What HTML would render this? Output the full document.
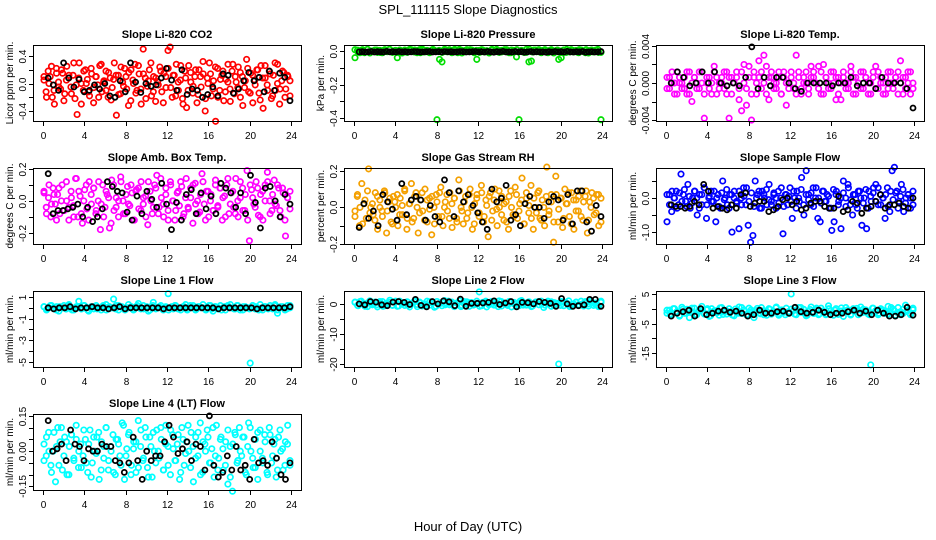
<!DOCTYPE html>
<html><head><meta charset="utf-8">
<style>
html,body{margin:0;padding:0;background:#fff;}
svg{display:block;font-family:"Liberation Sans",sans-serif;}
</style></head>
<body>
<svg id="chart" width="936" height="540" viewBox="0 0 936 540">
<text x="468" y="14" text-anchor="middle" font-size="13">SPL_111115  Slope Diagnostics</text>
<text x="468" y="531" text-anchor="middle" font-size="13">Hour of Day (UTC)</text>
</svg>
<script>
const hourTicks = [0,4,8,12,16,20,24];

const co2Vals = [0.05,-0.12,0.18,0.1,-0.2,-0.3,0.22,0.02,-0.08,0.15,
-0.15,0.25,0.08,-0.05,0.12,-0.22,-0.45,0.3,0.0,-0.1,
0.2,0.06,-0.18,0.14,-0.28,0.1,-0.02,0.26,-0.12,0.04,
0.18,-0.2,0.08,-0.06,0.3,-0.46,0.12,-0.15,0.02,0.22,
-0.08,0.16,-0.25,0.05,0.28,-0.1,0.14,-0.3,0.5,0.08,
-0.04,0.2,-0.18,0.1,-0.26,0.03,0.24,-0.12,0.15,-0.06,
0.48,0.53,-0.2,0.12,0.28,-0.1,0.05,-0.22,0.18,-0.35,
0.26,0.02,-0.14,0.1,-0.28,0.2,-0.05,0.14,-0.4,0.08,
0.3,-0.18,0.04,-0.55,0.22,-0.1,0.12,-0.25,0.06,0.28,
-0.08,0.18,-0.15,0.02,0.24,-0.2,0.1,-0.06,0.35,-0.12,
0.15,-0.28,0.05,0.2,-0.14,0.26,-0.36,0.08,-0.02,0.18,
-0.22,0.12,-0.1,0.28,-0.3,0.04,0.16,-0.08,0.1,-0.18];
const co2ValsB = [0.1,-0.2,0.0,0.25,-0.1,0.15,-0.05,0.2,-0.25,0.05,
0.12,-0.15,0.3,-0.02,0.08,-0.3,0.18,0.0,-0.12,0.22,
-0.06,0.1,-0.2,0.28,0.02,-0.1,0.16,-0.24,0.06,0.12,
-0.16,0.24,-0.04,0.1,-0.32,0.2,0.0,-0.14,0.26,-0.08,
0.14,-0.22,0.04,0.3,-0.12,0.08,-0.02,0.18,-0.28,0.1,
0.22,-0.06,0.12,-0.18,0.02,0.26,-0.3,0.08,-0.1,0.16,
-0.04,0.2,-0.16,0.1,0.32,-0.22,0.0,0.14,-0.08,0.24,
-0.2,0.06,0.18,-0.12,0.02,-0.26,0.28,0.1,-0.06,0.16,
-0.32,0.04,0.22,-0.14,0.12,-0.02,0.2,-0.24,0.08,0.26,
-0.1,0.14,-0.18,0.3,0.0,-0.08,0.18,-0.2,0.12,0.04];
const co2Black = [0.08,-0.02,-0.1,0.3,0.08,-0.05,0.06,-0.12,-0.1,-0.02,-0.08,0.0,-0.18,-0.2,0.04,-0.12,0.3,0.02,-0.13,0.0,-0.04,-0.02,0.08,0.22,0.05,-0.1,0.2,-0.16,-0.08,-0.1,-0.2,-0.16,-0.05,-0.18,0.14,0.12,-0.14,-0.08,0.04,0.16,0.04,0.09,-0.12,0.18,-0.1,0.15,0.09,-0.25];

const presVals = [-0.04,0.005,-0.01,0.008,-0.005,0.01,-0.012,0.0,0.006,-0.008,
0.004,-0.01,0.008,-0.004,0.01,-0.006,0.002,-0.04,0.006,-0.012,
0.004,-0.008,0.01,-0.002,0.006,-0.01,0.008,0.012,-0.006,0.004,
-0.01,0.006,0.004,-0.41,-0.05,-0.065,0.01,-0.004,0.008,-0.01,
0.004,-0.006,0.01,-0.012,0.002,0.008,-0.004,0.006,-0.01,-0.05,
0.004,0.008,-0.006,0.002,-0.012,0.006,-0.004,0.01,-0.008,0.004,
-0.002,0.008,-0.01,0.006,-0.004,-0.035,-0.41,0.004,-0.008,0.01,
-0.065,-0.06,0.006,-0.004,0.008,-0.01,0.004,-0.006,0.002,0.008,
-0.012,0.004,-0.05,-0.04,0.006,-0.008,0.002,0.008,-0.006,0.004,
-0.01,0.006,-0.002,0.008,-0.012,0.004,-0.006,0.006,-0.008,-0.41];
const presValsB = [0.008,-0.006,0.004,-0.01,0.01,0.0,-0.004,0.006,-0.008,0.002,
-0.002,0.01,-0.008,0.004,0.0,-0.01,0.006,-0.004,0.008,-0.006,
0.002,-0.01,0.006,0.0,-0.006,0.01,-0.002,0.004,-0.008,0.008,
0.0,-0.004,0.01,-0.01,0.006,-0.006,0.002,0.008,-0.002,0.004,
-0.008,0.006,0.0,-0.01,0.01,-0.004,0.004,-0.006,0.008,0.002,
-0.01,0.004,0.008,-0.002,0.0,-0.008,0.01,-0.006,0.006,-0.004,
0.002,0.008,-0.01,0.004,-0.002,0.006,0.0,-0.008,0.01,-0.006,
0.004,-0.004,0.008,0.0,-0.01,0.002,0.006,-0.002,0.01,-0.008];
const presBlack = [-0.005,-0.004,-0.006,-0.005,-0.003,-0.006,-0.004,-0.005,-0.006,-0.002,-0.005,-0.004,-0.006,-0.003,-0.005,-0.004,-0.006,-0.005,-0.003,-0.004,-0.006,-0.005,-0.004,-0.003,-0.006,-0.005,-0.004,-0.006,-0.003,-0.005,-0.004,-0.006,-0.005,-0.003,-0.004,-0.006,-0.005,-0.004,-0.003,-0.005,
-0.004,-0.006,-0.003,-0.005,-0.007,-0.004,-0.005,-0.002,-0.006,-0.005,-0.006,-0.003,-0.005,-0.004,-0.007,-0.005,-0.003,-0.006,-0.004,-0.005,-0.005,-0.007,-0.004,-0.006,-0.003,-0.005,-0.004,-0.006,-0.002,-0.005,-0.006,-0.004,-0.005,-0.003,-0.007,-0.005,-0.004,-0.006,-0.005,-0.003];

const tempVals = [-0.0006,0.0006,0.0,-0.0012,0.0012,0.0,-0.0006,0.0006,-0.0012,0.0012,
-0.002,0.0006,0.0,-0.0006,0.0012,-0.0038,0.0,0.0006,-0.0012,0.0018,
0.0006,-0.0006,0.0,0.0012,-0.0012,-0.0038,0.0006,0.0,0.0012,-0.0018,
-0.003,0.002,-0.0024,0.0018,-0.004,0.0006,-0.0012,0.0024,0.0012,0.003,
0.0018,-0.0018,0.0006,0.0,-0.0006,0.0012,-0.0012,0.0006,-0.0024,0.0,
0.0012,-0.0006,0.003,0.0006,-0.0012,0.0,0.0012,-0.0006,0.0018,0.0006,
0.0,0.0018,-0.0012,0.002,0.0006,-0.0006,0.0012,0.0,-0.0018,0.0006,
-0.0018,0.0012,0.0,-0.0006,0.0018,0.0006,-0.0012,0.0,0.0012,-0.0006,
0.0006,0.0,-0.0012,0.0012,0.0018,-0.0006,0.0006,0.0,-0.0012,0.0012,
0.0,-0.0006,0.0006,0.0012,0.0024,-0.0012,0.0006,0.0,0.0012,-0.0006];
const tempValsB = [0.0006,-0.0006,0.0012,0.0,-0.0012,0.0006,0.0,-0.0006,0.0012,-0.0012,
0.0,0.0006,-0.0006,0.0012,0.0,-0.0012,0.0006,-0.0006,0.0,0.0012,
-0.0012,0.0,0.0006,-0.0006,0.0012,0.0006,-0.0012,0.0,0.0006,-0.0006,
0.0012,0.0,-0.0006,0.0006,-0.0012,0.0012,0.0,0.0006,-0.0006,0.0,
-0.0012,0.0006,0.0012,-0.0006,0.0,0.0006,-0.0012,0.0012,0.0,-0.0006,
0.0006,0.0,-0.0012,0.0012,-0.0006,0.0006,0.0,-0.0012,0.0006,0.0012,
0.0,-0.0006,0.0012,-0.0012,0.0006,0.0,-0.0006,0.0012,0.0006,-0.0012,
0.0,0.0006,-0.0006,0.0,0.0012,-0.0012,0.0006,0.0,-0.0006,0.0012,
0.0006,-0.0012,0.0,0.0006,-0.0006,0.0012,0.0,-0.0012,0.0006,-0.0006,
0.0012,0.0,0.0006,-0.0012,0.0,0.0006,-0.0006,0.0012,-0.0012,0.0];
const tempBlack = [0.0,0.0012,0.0006,-0.0003,0.0,0.0012,0.0,0.0012,0.0,-0.0003,0.0,-0.0003,0.0006,0.0039,-0.0006,0.0006,-0.0003,0.0006,0.0006,0.0,-0.0006,-0.0009,0.0,0.0,0.0,0.0,-0.0003,0.0,0.0,0.0006,-0.0003,0.0,0.0,-0.0006,0.0006,0.0,0.0,0.0,-0.0006,-0.0027];

const ambVals = [0.05,-0.04,0.02,-0.1,0.08,-0.02,0.04,-0.08,0.1,-0.06,
0.0,-0.12,0.06,-0.03,0.14,-0.1,0.03,-0.14,0.07,-0.05,
0.12,-0.02,0.08,-0.08,0.0,-0.18,0.1,-0.04,0.04,-0.17,
0.13,-0.06,0.02,-0.1,0.15,0.0,-0.08,0.09,-0.03,0.05,
-0.12,0.07,-0.05,0.12,-0.02,0.03,-0.15,0.06,-0.08,0.1,
0.16,-0.04,0.02,-0.1,0.08,-0.06,0.12,0.0,-0.12,0.05,
-0.03,0.09,-0.08,0.14,-0.05,0.02,-0.14,0.11,0.0,-0.07,
0.17,-0.02,0.06,-0.1,0.04,-0.06,0.13,-0.03,0.08,-0.12,
0.03,0.1,-0.08,0.05,-0.04,0.14,-0.1,0.02,0.08,-0.06,
0.19,-0.25,0.07,-0.02,0.12,-0.09,0.04,-0.12,0.1,0.18,
0.0,-0.06,0.13,-0.03,0.08,-0.1,0.05,-0.22,0.02,-0.05];
const ambValsB = [0.06,-0.08,0.1,-0.02,0.04,-0.12,0.08,0.0,-0.06,0.12,
-0.04,0.02,-0.1,0.14,0.06,-0.08,0.0,0.1,-0.12,0.04,
0.08,-0.06,0.12,-0.02,-0.1,0.06,0.02,-0.14,0.1,-0.04,
0.0,0.12,-0.08,0.04,-0.02,0.1,-0.12,0.06,0.08,-0.06,
0.02,-0.1,0.12,0.0,-0.04,0.08,-0.08,0.14,-0.02,0.04,
-0.12,0.1,0.0,-0.06,0.06,0.12,-0.1,0.02,-0.04,0.08,
0.1,-0.02,-0.08,0.04,0.12,-0.12,0.06,0.0,-0.06,0.1,
-0.04,0.08,0.02,-0.1,0.14,-0.02,0.06,-0.08,0.0,0.12,
-0.06,0.04,-0.12,0.1,0.02,-0.04,0.08,-0.1,0.06,0.0,
0.12,-0.08,0.04,-0.02,0.1,-0.06,0.08,-0.12,0.02,0.06];
const ambBlack = [0.17,-0.08,-0.06,-0.06,-0.05,-0.04,-0.02,-0.1,-0.04,-0.13,-0.1,-0.05,0.12,0.09,0.06,0.05,-0.07,-0.12,0.03,-0.08,0.06,0.01,-0.04,0.11,-0.02,-0.18,-0.01,-0.12,0.04,0.07,-0.08,0.05,-0.05,0.03,-0.08,0.11,0.08,0.05,-0.04,0.05,-0.08,0.16,-0.01,-0.17,0.08,0.09,0.0,-0.1,0.04,-0.02];

const rhVals = [-0.02,0.06,-0.1,0.13,0.02,-0.06,0.21,0.0,-0.04,0.08,
-0.12,0.04,-0.02,0.09,-0.14,0.03,-0.08,0.06,0.0,-0.1,
0.05,-0.04,0.1,-0.12,0.02,0.13,-0.06,0.08,-0.14,0.04,
-0.02,0.1,-0.08,0.05,-0.15,0.0,0.07,-0.05,0.11,-0.1,
0.03,-0.02,0.08,-0.11,0.05,-0.06,0.15,0.0,-0.09,0.06,
-0.03,0.1,-0.12,0.02,0.07,-0.05,0.12,-0.08,0.04,-0.16,
0.08,-0.02,0.1,-0.1,0.0,0.06,-0.07,0.03,-0.12,0.09,
-0.04,0.11,-0.06,0.02,0.16,-0.09,0.05,-0.03,0.12,-0.12,
0.0,0.08,-0.06,0.04,-0.1,0.22,-0.02,0.07,-0.19,0.17,
-0.08,0.05,-0.11,0.1,0.02,-0.05,0.08,-0.12,0.04,-0.02,
0.09,-0.07,0.06,-0.14,0.03,0.08,-0.04,0.07,-0.1,0.05];
const rhValsB = [-0.05,0.07,0.0,-0.09,0.04,0.09,-0.03,0.02,-0.07,0.06,
0.0,-0.05,0.08,-0.02,0.05,-0.09,0.03,0.07,-0.04,0.01,
0.09,-0.06,0.02,-0.08,0.06,0.0,-0.03,0.08,-0.07,0.04,
-0.01,0.06,-0.09,0.03,0.08,-0.05,0.0,0.07,-0.06,0.02,
0.05,-0.08,0.09,-0.02,0.03,-0.06,0.07,0.0,-0.09,0.05,
-0.03,0.08,-0.05,0.01,0.06,-0.07,0.04,-0.01,0.09,-0.04,
0.02,-0.08,0.06,0.0,-0.05,0.07,-0.02,0.04,-0.09,0.08,
0.01,-0.06,0.05,-0.03,0.09,-0.07,0.0,0.06,-0.04,0.03,
-0.08,0.07,-0.01,0.05,-0.06,0.02,0.08,-0.09,0.04,-0.02,
0.06,-0.05,0.03,0.09,-0.07,0.0,0.05,-0.03,0.07,-0.08];
const rhBlack = [-0.11,0.02,-0.06,-0.02,-0.1,0.07,0.03,-0.01,-0.07,0.13,-0.04,0.04,0.06,0.04,-0.07,0.01,-0.05,-0.08,0.15,0.08,-0.05,0.09,0.03,0.07,0.01,-0.03,-0.08,-0.12,0.1,0.03,0.05,0.12,-0.07,-0.04,-0.1,0.02,0.06,0.0,0.0,-0.06,0.03,0.06,0.04,-0.07,0.07,-0.09,0.09,0.09,-0.08,-0.13,0.01,-0.05];

const flowVals = [-0.7,0.1,-0.4,0.0,0.2,-0.2,0.7,0.1,-0.1,0.4,
-0.3,0.0,0.2,-0.5,0.1,-0.2,0.3,-0.6,0.0,0.2,
-0.1,-0.7,0.1,-0.3,0.5,0.0,-0.2,0.1,-1.0,0.2,
-0.1,-0.9,0.0,0.3,-0.2,-0.8,-1.3,-1.1,0.5,0.1,
-0.3,0.2,0.0,-0.2,0.4,-0.1,0.1,-0.3,0.2,0.0,
-1.05,0.1,-0.2,0.3,-0.6,0.0,0.2,-0.1,0.6,-0.5,
0.8,0.1,-0.2,0.3,0.0,-0.6,-0.7,0.2,-0.1,0.1,
-0.3,-0.95,-0.7,0.2,-0.1,-0.9,0.5,0.0,0.4,-0.2,
-0.5,0.1,-0.3,0.2,-0.8,0.0,-0.9,0.2,-0.1,0.3,
0.4,-0.2,0.1,0.0,-0.6,0.3,-0.4,0.8,0.9,0.2,
-0.1,0.4,-0.4,0.0,0.1,-0.3,0.2];
const flowValsB = [0.1,-0.2,0.2,0.0,-0.3,0.15,-0.1,0.25,-0.25,0.05,
-0.15,0.2,0.0,-0.3,0.1,0.3,-0.2,0.05,-0.1,0.2,
0.0,-0.25,0.15,-0.05,0.25,-0.3,0.1,0.0,-0.15,0.2,
-0.2,0.05,0.3,-0.1,0.15,-0.25,0.0,0.2,-0.3,0.1,
0.25,-0.05,-0.2,0.15,0.0,-0.15,0.3,-0.25,0.1,0.05,
-0.1,0.2,-0.3,0.0,0.25,-0.2,0.1,-0.05,0.15,-0.25,
0.3,0.0,-0.15,0.2,-0.1,0.05,-0.3,0.25,0.1,-0.2,
0.0,0.15,-0.25,0.3,-0.05,0.1,-0.2,0.2,0.0,-0.15,
0.25,-0.3,0.05,0.15,-0.1,0.3,-0.2,0.0,0.1,-0.25,
0.2,-0.05,0.15,-0.3,0.05,0.25,-0.15,0.1,0.0,-0.2];
const flowBlack = [-0.2,-0.25,-0.25,-0.3,-0.25,-0.1,-0.2,0.4,0.2,-0.3,-0.25,-0.3,-0.35,-0.2,-0.3,0.1,0.15,-0.25,-0.15,-0.1,-0.1,-0.4,-0.35,-0.25,-0.05,0.0,-0.2,-0.1,-0.35,-0.3,-0.15,-0.1,-0.1,-0.25,-0.3,-0.3,0.05,-0.4,-0.35,-0.1,-0.15,-0.45,-0.3,-0.25,-0.1,0.1,-0.3,-0.2,-0.2,-0.15,-0.25,-0.3,0.0];

const line1Vals = [0.1,-0.2,0.0,0.2,-0.1,0.1,-0.3,0.0,0.2,-0.1,
0.3,0.0,-0.2,0.1,0.6,-0.1,0.2,0.0,-0.3,0.1,
-0.1,0.2,0.0,-0.2,0.1,0.3,-0.1,0.0,0.8,0.2,
-0.2,0.1,0.0,-0.1,0.3,0.0,-0.2,0.1,0.4,-0.1,
0.2,0.0,-0.3,0.1,0.5,-0.1,0.0,0.2,-0.2,0.1,
1.3,0.0,-0.1,0.2,0.0,-0.2,0.1,0.3,-0.1,0.0,
0.2,-0.2,0.1,0.0,0.3,-0.1,0.0,0.2,-0.3,0.1,
-0.1,0.2,0.0,-0.2,0.1,0.3,0.0,-0.1,0.2,0.0,
-0.2,0.1,0.0,-5.1,0.2,-0.1,0.0,0.3,-0.2,0.1,
0.0,0.2,-0.1,0.3,-0.5,0.0,0.1,-0.2,0.2,0.0];
const line1ValsB = [0.1,-0.1,0.2,0.0,-0.2,0.1,0.0,-0.1,0.2,-0.2,0.0,0.1,-0.1,0.2,-0.2,0.0,0.1,-0.1,0.0,0.2,-0.2,0.1,0.0,-0.1,0.2,0.1,-0.2,0.0,0.1,-0.1,0.2,0.0,-0.1,0.1,-0.2,0.2,0.0,0.1,-0.1,0.0,-0.2,0.1,0.2,-0.1,0.0,0.1,-0.2,0.2,0.0,-0.1,0.1,0.0,-0.2,0.2,-0.1,0.1,0.0,-0.2,0.1,0.2,0.0,-0.1,0.2,-0.2,0.1,0.0,-0.1,0.2,0.1,-0.2,0.0,0.1,-0.1,0.0,0.2,-0.2,0.1,0.0,-0.1,0.2];
const line1Black = [0.0,-0.1,0.0,0.0,0.1,-0.1,0.0,0.0,0.1,0.0,0.0,-0.1,0.0,0.1,-0.1,0.0,0.0,0.0,0.0,0.0,0.0,-0.1,0.0,0.0,0.0,0.0,0.0,0.0,0.0,0.0,0.0,-0.1,0.0,0.0,0.0,0.0,0.0,0.0,-0.1,0.0,0.0,0.0,0.0,0.0,0.1];

const line2Vals = [0.5,-0.5,0.8,0.0,-0.8,0.3,1.0,-0.3,0.6,-1.0,
0.2,0.8,-0.6,0.0,1.2,-0.4,0.5,-0.8,0.9,0.0,
-0.5,0.7,-1.0,0.3,1.0,-0.2,0.6,-0.7,0.0,0.9,
-0.4,0.4,-1.1,0.8,0.0,-0.6,1.1,0.2,-0.3,0.6,
-0.9,0.3,1.0,-0.5,0.0,0.7,-0.8,0.4,-0.2,0.9,
4.0,-0.6,0.5,-1.0,0.2,0.8,-0.4,0.0,1.0,-0.7,
0.3,-0.2,0.8,-1.0,0.5,0.0,-0.6,1.1,0.2,-0.4,
0.7,-0.9,0.0,0.6,-0.3,0.9,-1.2,0.4,0.0,0.7,
-0.5,0.2,-20.0,0.8,-0.6,0.3,1.0,-0.8,0.0,0.6,
-0.3,0.9,-0.7,0.4,0.0,1.0,-0.5,0.3,-0.9,0.5];
const line2ValsB = [0.6,-0.6,0.9,0.0,-0.9,0.3,0.0,-0.3,0.8,-0.8,0.2,0.5,-0.5,0.9,-0.7,0.0,0.4,-0.4,0.1,0.8,-0.9,0.3,0.0,-0.5,0.7,0.4,-0.8,0.0,0.5,-0.3,0.9,0.1,-0.6,0.3,-0.9,0.8,0.0,0.4,-0.4,0.0,-0.8,0.5,0.9,-0.3,0.0,0.4,-0.9,0.8,0.1,-0.5,0.5,0.0,-0.8,0.9,-0.4,0.3,0.0,-0.7,0.6,0.8,0.0,-0.4,0.9,-0.8,0.4,0.1,-0.5,0.7,0.3,-0.9,0.0,0.5,-0.4,0.0,0.8,-0.7,0.4,0.0,-0.5,0.9];
const line2Black = [0.0,-0.3,0.8,0.6,-0.3,-0.6,0.6,0.8,0.5,-0.2,1.5,-0.5,-1.0,0.8,0.0,1.0,0.7,-0.6,1.6,-0.8,0.2,0.2,0.3,0.5,1.0,-0.2,0.3,0.8,-1.0,0.5,0.4,0.0,0.8,0.5,0.2,-0.8,1.8,0.0,-0.8,-0.6,-0.3,1.5,1.5,-0.8];

const line3Vals = [-1.5,-0.5,-2.0,0.0,-1.0,-2.5,0.5,-1.5,-0.2,-3.0,
-1.0,0.2,-2.0,-0.8,0.8,-1.6,-0.4,-2.6,0.0,-1.2,
-0.6,-2.2,0.4,-1.0,-1.8,0.0,-0.8,-2.4,-1.2,0.6,
-1.6,-0.4,-2.0,0.2,-1.0,-3.0,-0.6,-1.4,0.4,-2.0,
-0.8,0.0,-1.8,-1.0,0.6,-2.2,-0.4,-1.2,0.2,-1.6,
5.0,-0.6,-2.0,0.4,-1.2,-0.2,-2.4,-0.8,0.6,-1.6,
-0.4,-2.0,0.2,-1.0,-1.8,1.0,-0.6,-2.2,0.0,-1.4,
-0.8,-2.6,0.4,-1.0,-1.8,0.0,-0.6,-2.0,0.6,-1.2,
-0.4,-1.8,-19.0,0.2,-1.0,-2.0,0.0,-0.6,-1.6,0.8,
-1.2,-0.2,-2.2,0.4,-1.0,-1.6,1.2,-0.6,-2.0,-0.4];
const line3ValsB = [-0.5,-1.8,0.0,-1.2,-2.2,-0.2,-1.5,-0.8,0.2,-2.0,-1.0,-0.3,-1.8,0.0,-2.4,-0.8,-1.4,0.3,-1.9,-0.6,-1.2,-2.1,-0.1,-1.5,0.4,-0.9,-2.0,-0.4,-1.3,0.1,-1.7,-0.7,-2.2,-0.2,-1.1,0.3,-1.6,-0.5,-2.0,-1.0,-0.1,-1.8,-0.6,0.4,-1.4,-2.2,-0.3,-1.0,0.2,-1.7,-0.8,-2.0,0.0,-1.3,-0.5,-1.9,0.3,-1.1,-0.4,-2.1,-0.9,0.1,-1.6,-0.2,-1.2,-2.0,0.2,-0.7,-1.5,-0.3,-1.0,-1.8,0.4,-0.6,-1.3,-2.0,-0.1,-0.9,-1.6,0.2];
const line3Black = [-2.5,-1.5,-1.0,-0.5,-2.5,0.0,-2.0,-1.5,-0.8,-0.5,-1.2,-0.8,-1.5,-2.5,-2.0,-0.5,-1.5,-1.5,-1.0,-0.8,-1.5,0.5,-1.0,-1.5,-1.2,-0.5,-1.2,-2.0,-1.5,-1.5,-1.0,-0.5,-1.5,-0.8,-2.0,-0.5,-1.5,-2.5,-2.5,-2.0,0.5,-2.2];

const line4Vals = [0.03,-0.02,0.08,-0.06,0.0,-0.13,0.1,0.04,-0.08,0.06,
-0.1,0.02,0.07,-0.04,0.11,-0.07,0.03,-0.02,0.05,-0.09,
0.09,-0.05,0.0,0.06,-0.12,0.04,-0.03,0.1,-0.08,0.02,
0.07,-0.1,0.05,-0.02,0.12,-0.12,0.01,0.08,-0.06,0.04,
-0.09,0.13,0.02,-0.04,0.1,-0.07,0.06,-0.11,0.0,0.09,
-0.03,0.05,-0.08,0.11,0.02,-0.1,0.07,-0.04,0.03,-0.12,
0.1,-0.06,0.04,0.0,0.08,-0.13,0.06,-0.02,0.12,-0.09,
0.03,0.09,-0.05,0.01,-0.11,0.11,-0.03,0.06,-0.08,0.04,
-0.14,0.02,-0.17,0.08,-0.05,0.1,-0.02,0.06,-0.1,0.12,
0.0,-0.07,0.05,-0.12,0.09,-0.03,0.07,-0.09,0.1,-0.05,
0.03,-0.11,0.06,0.0,-0.08,0.04,0.11,-0.06];
const line4ValsB = [-0.04,0.06,0.0,-0.09,0.08,0.02,-0.06,0.1,-0.02,0.04,
-0.1,0.07,-0.03,0.05,0.0,-0.07,0.09,-0.05,0.03,-0.11,
0.06,-0.01,0.08,-0.08,0.02,0.1,-0.04,0.0,-0.09,0.05,
0.03,-0.06,0.11,-0.02,0.07,-0.1,0.01,0.04,-0.07,0.09,
-0.03,0.06,-0.11,0.02,0.08,-0.05,0.0,0.1,-0.08,0.03,
-0.06,0.09,0.01,-0.04,0.07,-0.09,0.05,-0.01,0.11,-0.07,
0.02,-0.03,0.08,-0.1,0.04,0.0,0.06,-0.05,0.1,-0.02,
-0.08,0.05,0.01,-0.06,0.09,-0.11,0.03,0.07,-0.04,0.0,
0.06,-0.09,0.02,0.1,-0.03,-0.07,0.08,0.0,-0.05,0.04,
-0.1,0.07,-0.02,0.05,-0.08,0.09,0.01,-0.06,0.03,-0.04];
const line4Black = [0.13,0.0,0.01,0.03,-0.04,0.09,0.03,0.02,-0.04,0.01,0.0,0.0,0.03,0.02,0.02,-0.04,-0.05,-0.09,-0.05,0.06,-0.04,-0.12,0.0,-0.04,-0.02,-0.02,0.04,0.11,0.06,-0.01,0.01,0.04,-0.04,0.03,0.02,-0.08,0.15,-0.06,-0.11,-0.09,-0.02,-0.08,0.02,-0.08,-0.06,-0.12,0.05,-0.05,-0.04,-0.06,0.04,-0.03,-0.1,-0.12,-0.05];

const panels = [
 {name:'co2', title:'Slope Li-820 CO2', ylab:'Licor ppm per min.', ylim:[-0.545,0.56], ticks:[-0.4,-0.2,0,0.2,0.4], labels:['-0.4','','0.0','','0.4'], color:'#ff0000', series:[co2Vals,co2ValsB], blk:co2Black},
 {name:'pressure', title:'Slope Li-820 Pressure', ylab:'kPa per min.', ylim:[-0.418,0.036], ticks:[-0.4,-0.3,-0.2,-0.1,0], labels:['-0.4','','-0.2','','0.0'], color:'#00dd00', series:[presVals,presValsB], blk:presBlack},
 {name:'temp', title:'Slope Li-820 Temp.', ylab:'degrees C per min.', ylim:[-0.0041,0.0041], ticks:[-0.004,-0.002,0,0.002,0.004], labels:['-0.004','','0.000','','0.004'], color:'#ff00ff', series:[tempVals,tempValsB], blk:tempBlack},
 {name:'amb-temp', title:'Slope Amb. Box Temp.', ylab:'degrees C per min.', ylim:[-0.27,0.206], ticks:[-0.2,-0.1,0,0.1,0.2], labels:['-0.2','','0.0','','0.2'], color:'#ff00ff', series:[ambVals,ambValsB], blk:ambBlack},
 {name:'rh', title:'Slope Gas Stream RH', ylab:'percent per min.', ylim:[-0.2,0.215], ticks:[-0.2,-0.1,0,0.1,0.2], labels:['-0.2','','0.0','','0.2'], color:'#f4a000', series:[rhVals,rhValsB], blk:rhBlack},
 {name:'sample-flow', title:'Slope Sample Flow', ylab:'ml/min per min.', ylim:[-1.35,0.88], ticks:[-1,-0.5,0,0.5], labels:['-1.0','','0.0',''], color:'#0000ff', series:[flowVals,flowValsB], blk:flowBlack},
 {name:'line1', title:'Slope Line 1 Flow', ylab:'ml/min per min.', ylim:[-5.46,1.55], ticks:[-5,-4,-3,-2,-1,0,1], labels:['-5','','-3','','-1','','1'], color:'#00ffff', series:[line1Vals,line1ValsB], blk:line1Black},
 {name:'line2', title:'Slope Line 2 Flow', ylab:'ml/min per min.', ylim:[-21,4.3], ticks:[-20,-15,-10,-5,0], labels:['-20','','-10','','0'], color:'#00ffff', series:[line2Vals,line2ValsB], blk:line2Black},
 {name:'line3', title:'Slope Line 3 Flow', ylab:'ml/min per min.', ylim:[-19.7,6], ticks:[-15,-10,-5,0,5], labels:['-15','','-5','','5'], color:'#00ffff', series:[line3Vals,line3ValsB], blk:line3Black},
 {name:'line4', title:'Slope Line 4 (LT) Flow', ylab:'ml/min per min.', ylim:[-0.165,0.158], ticks:[-0.15,-0.1,-0.05,0,0.05,0.1,0.15], labels:['-0.15','','','0.00','','','0.15'], color:'#00ffff', series:[line4Vals,line4ValsB], blk:line4Black}
];

const NS = 'http://www.w3.org/2000/svg';
const svg = document.getElementById('chart');
const colX0 = [43, 354, 666];
const rowTop = [45, 168, 291, 414];
const boxH = 76;
const hourW = 248/24;

function mk(tag, attrs, parent){
  const e = document.createElementNS(NS, tag);
  for (const k in attrs) e.setAttribute(k, attrs[k]);
  parent.appendChild(e);
  return e;
}
function hourAt(i, n){ return 0.1 + i*23.8/(n-1); }

panels.forEach((p, idx) => {
  const col = idx % 3, row = Math.floor(idx/3);
  const x0 = colX0[col], top = rowTop[row], bot = top + boxH;
  const left = x0 - 10, right = x0 + 258;
  const xs = h => x0 + h*hourW;
  const ys = v => bot - (v - p.ylim[0])/(p.ylim[1]-p.ylim[0])*boxH;
  const g = mk('g', {}, svg);
  
  

  const t = mk('text', {x:(left+right)/2, y:top-7, 'text-anchor':'middle', 'font-size':'11', 'font-weight':'bold'}, g);
  t.textContent = p.title;
  
  

  const yl = mk('text', {x:0, y:0, transform:`translate(${left-20},${(top+bot)/2}) rotate(-90)`, 'text-anchor':'middle', 'font-size':'10'}, g);
  yl.textContent = p.ylab;
  
  

  const pts = mk('g', {fill:'none'}, g);
  
  
  p.series.forEach(arr => {
    arr.forEach((v, i) => {
      const c = mk('circle', {cx:xs(hourAt(i, arr.length)).toFixed(1), cy:ys(v).toFixed(1), r:2.7, stroke:p.color, 'stroke-width':1.7}, pts);
      
      
    });
  });
  const bpts = mk('g', {fill:'none'}, g);
  
  
  p.blk.forEach((v, i) => {
    const c = mk('circle', {cx:xs(0.5 + i*23.4/(p.blk.length-1)).toFixed(1), cy:ys(v).toFixed(1), r:2.5, stroke:'#000', 'stroke-width':1.8}, bpts);
    
    
  });

  const box = mk('rect', {x:left+0.5, y:top+0.5, width:right-left, height:boxH, fill:'none', stroke:'#000', 'stroke-width':1}, g);
  
  

  hourTicks.forEach(h => {
    const x = Math.round(xs(h)) + 0.5;
    mk('line', {x1:x, x2:x, y1:bot, y2:bot+5, stroke:'#000'}, g);
    const lt = mk('text', {x:x, y:bot+18, 'text-anchor':'middle', 'font-size':'10'}, g);
    lt.textContent = h;
    
    
  });
  p.ticks.forEach((v, k) => {
    const y = Math.round(ys(v)) + 0.5;
    mk('line', {x1:left-4, x2:left, y1:y, y2:y, stroke:'#000'}, g);
    if (p.labels[k]) {
      const lt = mk('text', {x:0, y:0, transform:`translate(${left-7},${y}) rotate(-90)`, 'text-anchor':'middle', 'font-size':'10'}, g);
      lt.textContent = p.labels[k];
      
      
    }
  });
});
</script>
</body></html>
